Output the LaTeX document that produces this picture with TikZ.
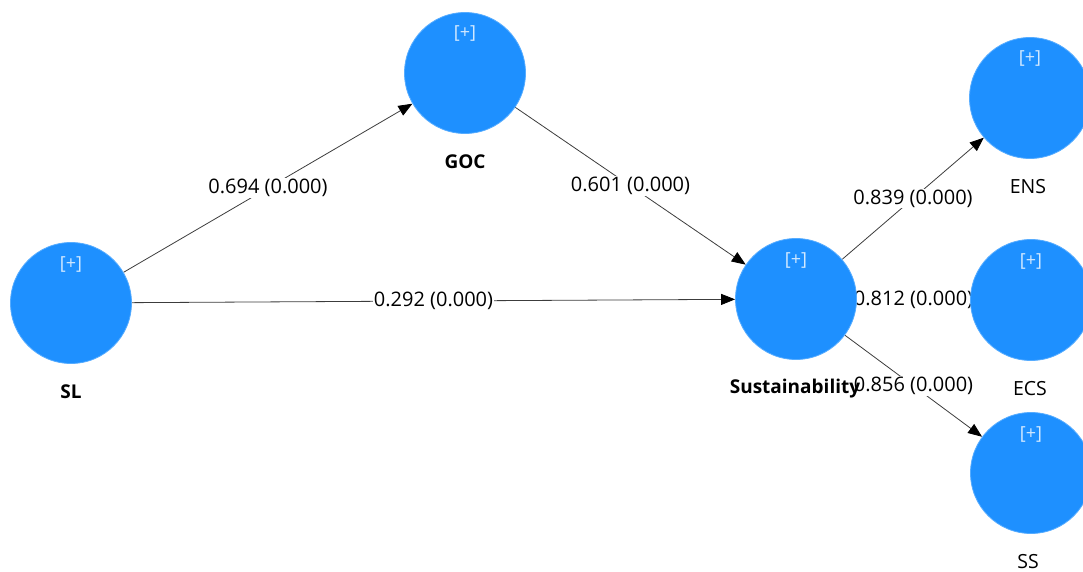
\documentclass[tikz,border=0pt]{standalone}
\usepackage{fontspec}
\setmainfont{Open Sans}
\usetikzlibrary{arrows.meta}
\pgfdeclarelayer{links}
\pgfsetlayers{links,main}
\definecolor{lvblue}{RGB}{30,144,255}
\definecolor{lnkgray}{RGB}{60,60,60}

\begin{document}
\begin{tikzpicture}[x=1pt,y=-1pt,
  lv/.style={circle,fill=lvblue,draw=lvblue!75!white,line width=0.8pt,minimum size=121pt,inner sep=0pt},
  plus/.style={text=white!80!lvblue,font=\fontsize{18}{20}\selectfont},
  lvname/.style={font=\fontsize{19}{22}\selectfont\bfseries},
  indname/.style={font=\fontsize{19.5}{22}\selectfont},
  path/.style={draw=lnkgray,line width=0.8pt,-{Triangle[length=14pt,width=11pt,color=black]}},
  coef/.style={fill=white,inner sep=1pt,font=\fontsize{20}{23}\selectfont}]
\useasboundingbox (0,0) rectangle (1083,572);
\clip (0,0) rectangle (1083,572);
% latent variables
\node[lv] (SL) at (71,303) {};
\node[lv] (GOC) at (465,73) {};
\node[lv] (SUS) at (796,299) {};
\node[lv] (ENS) at (1030,98) {};
\node[lv] (ECS) at (1031,300) {};
\node[lv] (SS) at (1031,473) {};
\node[plus] at (71,264) {[+]};
\node[plus] at (465,34) {[+]};
\node[plus] at (796,260) {[+]};
\node[plus] at (1030,59) {[+]};
\node[plus] at (1031,261) {[+]};
\node[plus] at (1031,434) {[+]};
% names
\node[lvname] (SLname) at (71,392) {SL};
\node[lvname] (GOCname) at (465,162) {GOC};
\node[lvname] (SUSname) at (795,389) {Sustainability};
\node[indname] (ENSname) at (1028,187) {ENS};
\node[indname] (ECSname) at (1030,389) {ECS};
\node[indname] (SSname) at (1028,562) {SS};
% paths
\begin{pgfonlayer}{links}
\draw[path] (SL) -- node[coef] {0.694 (0.000)} (GOC);
\draw[path] (GOC) -- node[coef] {0.601 (0.000)} (SUS);
\draw[path] (SL) -- node[coef] {0.292 (0.000)} (SUS);
\draw[path] (SUS) -- node[coef] {0.839 (0.000)} (ENS);
\draw[path] (SUS) -- node[coef] {0.812 (0.000)} (ECS);
\draw[path] (SUS) -- node[coef] {0.856 (0.000)} (SS);
\end{pgfonlayer}
\end{tikzpicture}
\end{document}
